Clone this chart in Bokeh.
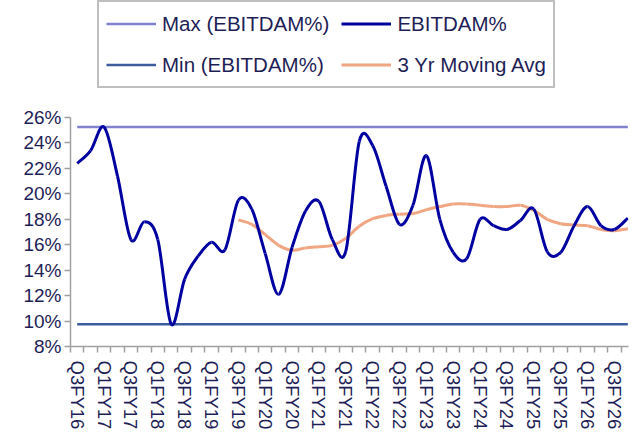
from bokeh.plotting import figure
from bokeh.models import Range1d, FixedTicker, Legend, LegendItem, ColumnDataSource, PrintfTickFormatter
from bokeh.embed import file_html
from bokeh.resources import INLINE

quarters = ["Q3FY16", "Q4FY16", "Q1FY17", "Q2FY17", "Q3FY17", "Q4FY17",
            "Q1FY18", "Q2FY18", "Q3FY18", "Q4FY18", "Q1FY19", "Q2FY19",
            "Q3FY19", "Q4FY19", "Q1FY20", "Q2FY20", "Q3FY20", "Q4FY20",
            "Q1FY21", "Q2FY21", "Q3FY21", "Q4FY21", "Q1FY22", "Q2FY22",
            "Q3FY22", "Q4FY22", "Q1FY23", "Q2FY23", "Q3FY23", "Q4FY23",
            "Q1FY24", "Q2FY24", "Q3FY24", "Q4FY24", "Q1FY25", "Q2FY25",
            "Q3FY25", "Q4FY25", "Q1FY26", "Q2FY26", "Q3FY26", "Q4FY26"]

ebitdam = [22.4, 23.4, 25.25, 21.4, 16.4, 17.8,
           16.4, 9.75, 13.3, 15.1, 16.2, 15.6,
           19.5, 18.8, 15.3, 12.1, 15.8, 18.65,
           19.4, 16.4, 15.5, 24.1, 23.8, 20.6,
           17.6, 19.1, 23.0, 18.0, 15.4, 14.9,
           18.0, 17.5, 17.2, 17.9, 18.8, 15.45,
           15.4, 17.5, 19.0, 17.5, 17.2, 18.1]

avg_start = 12
avg3 = [17.95, 17.6, 16.8, 15.95, 15.57, 15.75,
        15.85, 15.95, 16.5, 17.45, 18.05, 18.3,
        18.4, 18.45, 18.75, 19.0, 19.2, 19.2,
        19.1, 19.0, 19.0, 19.1, 18.7, 18.0,
        17.65, 17.55, 17.5, 17.2, 17.1, 17.25]

y_ticks = [8, 10, 12, 14, 16, 18, 20, 22, 24, 26]

FONT = "Liberation Sans"
TXT = "#1E1E56"
AX = "#A0A0A0"

n = len(quarters)
xs = list(range(n))
mx = max(ebitdam)
mn = min(ebitdam)


def bezier_source(x, y):
    m = len(x)
    d = dict(x0=[], y0=[], x1=[], y1=[], cx0=[], cy0=[], cx1=[], cy1=[])
    for i in range(m - 1):
        a = max(i - 1, 0)
        b = min(i + 2, m - 1)
        d["x0"].append(x[i]); d["y0"].append(y[i])
        d["x1"].append(x[i + 1]); d["y1"].append(y[i + 1])
        d["cx0"].append(x[i] + (x[i + 1] - x[a]) / 6.0)
        d["cy0"].append(y[i] + (y[i + 1] - y[a]) / 6.0)
        d["cx1"].append(x[i + 1] - (x[b] - x[i]) / 6.0)
        d["cy1"].append(y[i + 1] - (y[b] - y[i]) / 6.0)
    return ColumnDataSource(d)


p = figure(width=636, height=439, output_backend="svg", toolbar_location=None,
           x_range=Range1d(-0.5, 41.05), y_range=Range1d(8, 35.2),
           min_border_left=70, min_border_right=8, min_border_top=0, min_border_bottom=93)
p.outline_line_color = None
p.xgrid.grid_line_color = None
p.ygrid.grid_line_color = None
p.background_fill_color = "white"

r_max = p.line(xs, [mx] * n, line_color="#8082D0", line_width=2.5)
r_min = p.line(xs, [mn] * n, line_color="#3C5C9E", line_width=2.5)
r_avg = p.bezier(x0="x0", y0="y0", x1="x1", y1="y1", cx0="cx0", cy0="cy0", cx1="cx1", cy1="cy1",
                 source=bezier_source(xs[avg_start:], avg3), line_color="#F0A682", line_width=3)
r_eb = p.bezier(x0="x0", y0="y0", x1="x1", y1="y1", cx0="cx0", cy0="cy0", cx1="cx1", cy1="cy1",
                source=bezier_source(xs, ebitdam), line_color="#0000A0", line_width=3)

# y axis
ya = p.yaxis[0]
ya.ticker = FixedTicker(ticks=y_ticks)
ya.formatter = PrintfTickFormatter(format="%d%%")
ya.bounds = (8, 26)
ya.axis_line_color = AX
ya.axis_line_width = 1.5
ya.major_tick_line_color = AX
ya.major_tick_line_width = 1.5
ya.major_tick_out = 6
ya.major_tick_in = 0
ya.minor_tick_line_color = None
ya.major_label_text_font = FONT
ya.major_label_text_font_size = "19px"
ya.major_label_text_color = TXT
ya.major_label_standoff = 3

# x axis
xa = p.xaxis[0]
label_pos = [i for i in xs if i % 2 == 0]
xa.ticker = FixedTicker(ticks=label_pos, minor_ticks=[i - 0.5 for i in xs])
xa.major_label_overrides = {i: quarters[i] for i in label_pos}
xa.major_label_orientation = "vertical"
xa.axis_line_color = AX
xa.axis_line_width = 1.5
xa.major_tick_line_color = None
xa.major_tick_out = 0
xa.major_tick_in = 0
xa.minor_tick_line_color = AX
xa.minor_tick_line_width = 1.5
xa.minor_tick_out = 6
xa.minor_tick_in = 0
xa.major_label_text_font = FONT
xa.major_label_text_font_size = "18.5px"
xa.major_label_text_color = TXT
xa.major_label_standoff = 8

legend = Legend(items=[
    LegendItem(label="Max (EBITDAM%)", renderers=[r_max]),
    LegendItem(label="EBITDAM%", renderers=[r_eb]),
    LegendItem(label="Min (EBITDAM%)", renderers=[r_min]),
    LegendItem(label="3 Yr Moving Avg", renderers=[r_avg]),
], location=(27, 258), orientation="horizontal", ncols=2)
legend.border_line_color = "#808080"
legend.border_line_width = 2
legend.background_fill_color = "white"
legend.background_fill_alpha = 1
legend.label_text_font = FONT
legend.label_text_font_size = "20.5px"
legend.label_text_color = TXT
legend.glyph_width = 50
legend.glyph_height = 29
legend.label_height = 29
legend.label_standoff = 6
legend.padding = 7
legend.spacing = 12
p.add_layout(legend)

open("out.html", "w").write(file_html(p, INLINE))
